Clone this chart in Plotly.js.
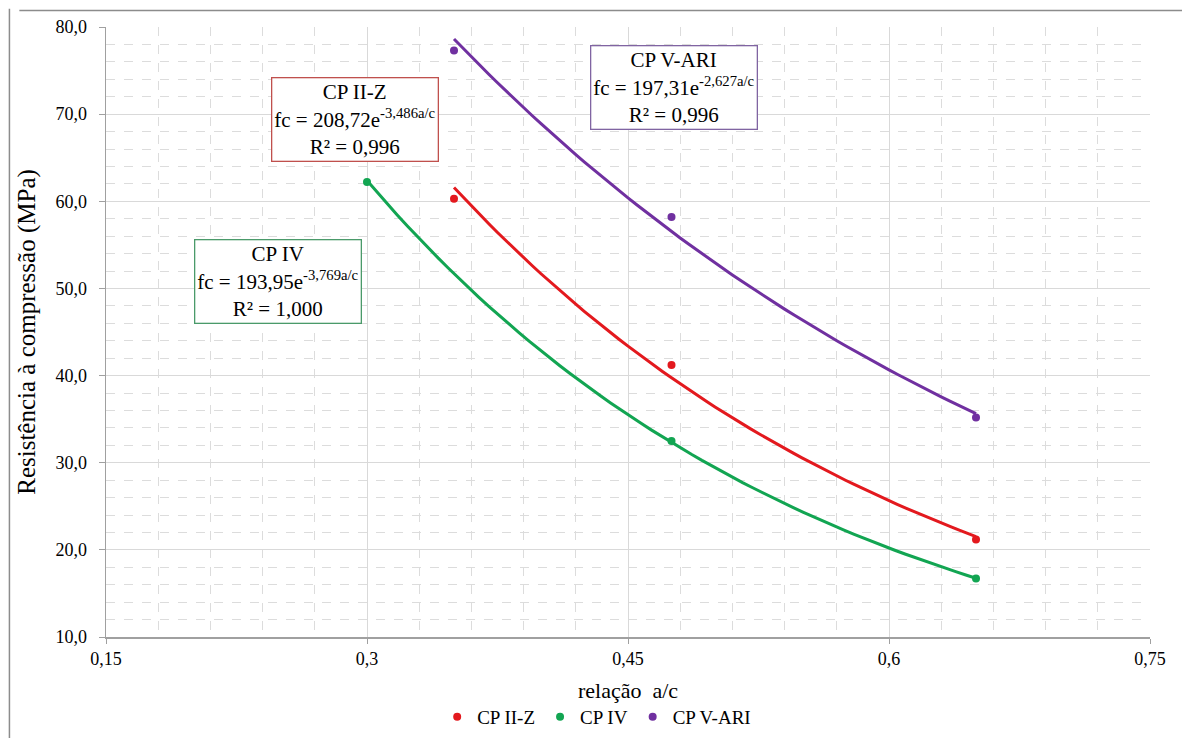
<!DOCTYPE html>
<html>
<head>
<meta charset="utf-8">
<script src="https://cdn.plot.ly/plotly-3.0.1.min.js"></script>
<style>html,body{margin:0;padding:0;background:#fff;}#chart{width:1182px;height:738px;}</style>
</head>
<body>
<div id="chart"></div>
<script>
// Data
const seriesNames = ["CP II-Z", "CP IV", "CP V-ARI"];
const xIIZ = [0.35, 0.475, 0.65];
const yIIZ = [60.3, 41.2, 21.2];
const xIV = [0.30, 0.475, 0.65];
const yIV = [62.2, 32.5, 16.7];
const xVARI = [0.35, 0.475, 0.65];
const yVARI = [77.3, 58.2, 35.2];
const xTickVals = [0.15, 0.3, 0.45, 0.6, 0.75];
const xTickText = ["0,15", "0,3", "0,45", "0,6", "0,75"];
const colors = ["#e3191e", "#12a552", "#7030a0"];
const boxColors = ["#c0504d", "#4a9a6a", "#8064a2"];
const labelTexts = [
  "CP II-Z<br>fc = 208,72e<sup>-3,486a/c</sup><br>R² = 0,996",
  "CP IV<br>fc = 193,95e<sup>-3,769a/c</sup><br>R² = 1,000",
  "CP V-ARI<br>fc = 197,31e<sup>-2,627a/c</sup><br>R² = 0,996"
];
const labelPos = [[0.2931, 69.4], [0.2491, 50.8], [0.4762, 73.1]];

// Exponential least-squares trend (as the spreadsheet does), computed from the points
function expTrend(xs, ys) {
  const n = xs.length;
  const ly = ys.map(Math.log);
  const mx = xs.reduce((a, b) => a + b, 0) / n;
  const my = ly.reduce((a, b) => a + b, 0) / n;
  let sxy = 0, sxx = 0;
  for (let i = 0; i < n; i++) { sxy += (xs[i] - mx) * (ly[i] - my); sxx += (xs[i] - mx) ** 2; }
  const b = sxy / sxx, a = Math.exp(my - b * mx);
  const x0 = Math.min(...xs), x1 = Math.max(...xs);
  const tx = [], ty = [];
  for (let k = 0; k <= 60; k++) { const x = x0 + (x1 - x0) * k / 60; tx.push(x); ty.push(a * Math.exp(b * x)); }
  return [tx, ty];
}

const xs = [xIIZ, xIV, xVARI], ys = [yIIZ, yIV, yVARI];
const traces = [];
for (let i = 0; i < 3; i++) {
  const [tx, ty] = expTrend(xs[i], ys[i]);
  traces.push({x: tx, y: ty, mode: "lines", line: {color: colors[i], width: 3}, showlegend: false, hoverinfo: "skip"});
}
for (let i = 0; i < 3; i++) {
  traces.push({x: xs[i], y: ys[i], mode: "markers", name: seriesNames[i],
    marker: {color: colors[i], size: 8}});
}

const font = "'Liberation Serif', 'Times New Roman', serif";
const annotations = labelTexts.map((t, i) => ({
  x: labelPos[i][0], y: labelPos[i][1], xref: "x", yref: "y",
  xanchor: "center", yanchor: "middle", showarrow: false, text: t,
  align: "center", font: {family: font, size: 21, color: "#000"},
  bgcolor: "#fff", bordercolor: boxColors[i], borderwidth: 1.3, borderpad: 2
}));

const layout = {
  width: 1182, height: 738,
  margin: {l: 106, r: 32, t: 27, b: 101, autoexpand: false},
  paper_bgcolor: "#fff", plot_bgcolor: "#fff",
  separators: ",.",
  font: {family: font, size: 18, color: "#000"},
  xaxis: {
    range: [0.15, 0.75], tickvals: xTickVals, ticktext: xTickText,
    showgrid: true, gridcolor: "#d9d9d9", gridwidth: 1,
    minor: {dtick: 0.03, tick0: 0.15, showgrid: true, gridcolor: "#dcdcdc", griddash: "dash", gridwidth: 1},
    showline: true, linecolor: "#a0a0a0", linewidth: 1.5,
    ticks: "outside", ticklen: 5, tickcolor: "#a0a0a0",
    tickfont: {family: font, size: 18, color: "#000"}, zeroline: false, automargin: false,
    title: {text: "relação  a/c", font: {family: font, size: 22}, standoff: 14}
  },
  yaxis: {
    range: [10, 80], dtick: 10, tickformat: ".1f",
    showgrid: true, gridcolor: "#d9d9d9", gridwidth: 1,
    minor: {dtick: 2, showgrid: true, gridcolor: "#dcdcdc", griddash: "dash", gridwidth: 1},
    showline: true, linecolor: "#a0a0a0", linewidth: 1.5,
    ticks: "outside", ticklen: 6, tickcolor: "#a0a0a0", ticklabelstandoff: 8,
    tickfont: {family: font, size: 18, color: "#000"}, zeroline: false, automargin: false,
    title: {text: "Resistência à compressão (MPa)", font: {family: font, size: 25}, standoff: 12}
  },
  legend: {orientation: "h", x: 0.47, xanchor: "center", y: -0.131, yanchor: "middle",
    font: {family: font, size: 19}, tracegroupgap: 0, itemwidth: 30},
  annotations: annotations,
  shapes: [
    {type: "line", xref: "paper", yref: "paper", x0: -0.083, x1: 1.1, y0: 1.027, y1: 1.027, line: {color: "#8c8c8c", width: 1.5}},
    {type: "line", xref: "paper", yref: "paper", x0: -0.0925, x1: -0.0925, y0: 1.03, y1: -0.2, line: {color: "#8c8c8c", width: 1.5}}
  ]
};

Plotly.newPlot("chart", traces, layout, {displayModeBar: false, staticPlot: true});
</script>
</body>
</html>
